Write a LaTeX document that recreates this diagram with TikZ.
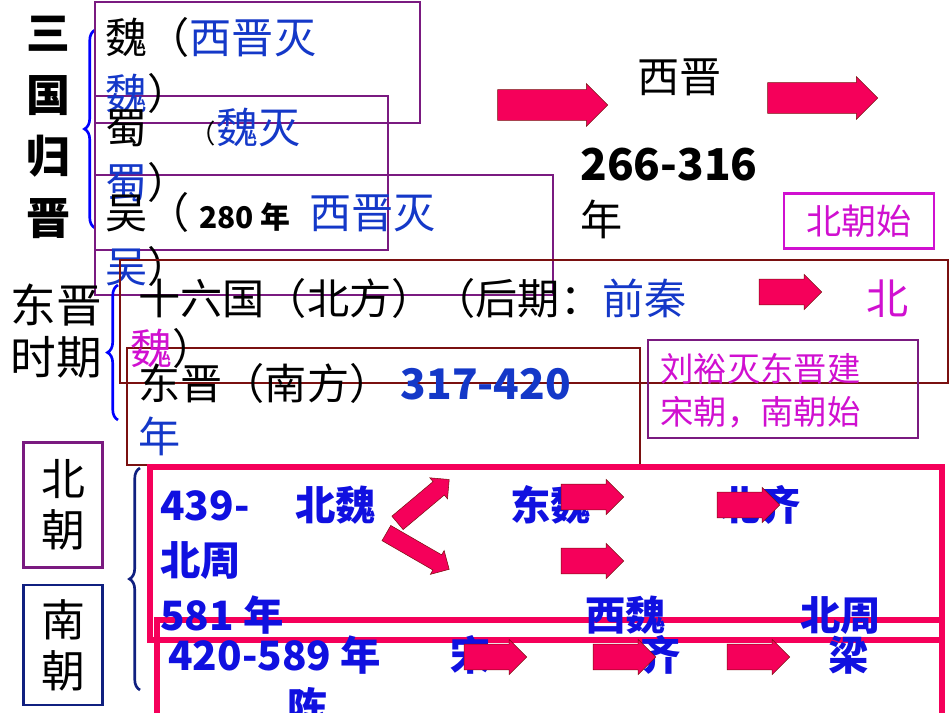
\documentclass[tikz,border=0pt]{standalone}
\usepackage{fontspec}
\setmainfont{Noto Sans CJK SC}
\usepackage{xcolor}
\usetikzlibrary{shapes.arrows, decorations.pathreplacing, positioning}
\definecolor{txtblue}{HTML}{1438C8}
\definecolor{boldblue}{HTML}{1010E0}
\definecolor{pinkred}{HTML}{F5005A}
\definecolor{frame}{HTML}{7A1A80}
\definecolor{darkred}{HTML}{7A1010}
\definecolor{magen}{HTML}{D010D0}
\definecolor{navy}{HTML}{102080}

\begin{document}
\begin{tikzpicture}[
		x=0.02cm, y=-0.02cm,
		txt/.style={anchor=base west, inner sep=0pt, font=\fontsize{24}{24}\selectfont},
		big/.style={txt, font=\fontsize{23}{23}\selectfont\bfseries, text=boldblue},
		side/.style={txt, font=\fontsize{19}{19}\selectfont, text=magen},
		frm/.style={draw=frame, line width=1.6pt},
		redfrm/.style={draw=darkred, line width=1.6pt},
		pinkfrm/.style={draw=pinkred, line width=3.6pt},
		blockarrow/.style={single arrow, draw=darkred, fill=pinkred, minimum height=2.2cm, minimum width=0.85cm, single arrow head extend=0.08cm, inner xsep=0pt, inner ysep=0.2cm, line width=0.3pt},
		smallarrow/.style={blockarrow, minimum height=1.25cm, minimum width=0.7cm, inner ysep=0.16cm, single arrow head extend=0.06cm},
		brace/.style={decorate, decoration={brace, amplitude=6pt}, line width=1.5pt}
		]
		\useasboundingbox (0,0) rectangle (950,713);
		
		% Three kingdoms
		\node[txt, font=\fontsize{25}{25}\selectfont\bfseries, align=center, anchor=north] (sanguo) at (48,16) {三\\[10pt]国\\[10pt]归\\[10pt]晋};
		\draw[brace, draw=blue] (95,228) -- (95,30);
		\draw[frm] (95,2) rectangle (420,123);
		\draw[frm] (95,96) rectangle (388,250);
		\draw[frm] (95,175) rectangle (553,295);
		\node[txt] (wei) at (105,54) {魏（\textcolor{txtblue}{西晋灭}};
		\node[txt] (wei2) at (105,110) {\textcolor{txtblue}{魏}）};
		\node[txt] (shu) at (105,144) {蜀\quad{\fontsize{15}{15}\selectfont（}\textcolor{txtblue}{魏灭}};
		\node[txt] (shu2) at (105,198) {\textcolor{txtblue}{蜀}）};
		\node[txt] (wu) at (105,228) {吴（ {\fontsize{17}{17}\selectfont\bfseries 280 年}\ \ \textcolor{txtblue}{西晋灭}};
		\node[txt] (wu2) at (105,282) {\textcolor{txtblue}{吴}）};
		
		% Western Jin
		\node[blockarrow] (a1) at (545,105) {};
		\node[blockarrow] (a2) at (815,98) {};
		\node[txt] (xijin) at (637,92) {西晋};
		\node[txt, font=\fontsize{25}{25}\selectfont\bfseries] (years) at (580,180) {266-316};
		\node[txt] (nian) at (580,235) {年};
		\node[draw=magen, line width=1.6pt, minimum width=3cm, minimum height=1.1cm, inner sep=0pt, text=magen, font=\fontsize{20}{20}\selectfont] (beichaoshi) at (859,221) {北朝始};
		
		% Eastern Jin
		\node[txt, align=left, anchor=north west, font=\fontsize{26}{30}\selectfont] (dongjin) at (10,283) {东晋\\时期};
		\draw[brace, draw=blue] (118,420) -- (118,285);
		\draw[redfrm] (120,260) rectangle (948,383);
		\draw[redfrm] (127,348) rectangle (640,465);
		\node[txt] (shiliu) at (138,314) {十六国（北方）（后期：\textcolor{txtblue}{前秦}};
		\node[smallarrow] (a3) at (784,292) {};
		\node[txt, text=magen] (bei) at (866,314) {北};
		\node[txt] (wei3) at (130,364) {\textcolor{magen}{魏}）};
		\node[txt] (dongjin2) at (138,399) {东晋（南方）\ {\bfseries\textcolor{txtblue}{317-420}}};
		\node[txt, text=txtblue] (nian2) at (138,452) {年};
		\draw[frm] (648,340) rectangle (918,438);
		\node[side] (liuyu) at (660,381) {刘裕灭东晋建};
		\node[side] (liuyu2) at (660,424) {宋朝，南朝始};
		
		% Northern and Southern dynasties
		\node[draw=frame, line width=1.6pt, minimum width=1.58cm, minimum height=2.5cm, inner sep=0pt, align=center, font=\fontsize{25}{29}\selectfont] (beichao) at (63,505) {北\\朝};
		\node[draw=navy, line width=1.6pt, minimum width=1.58cm, minimum height=2.4cm, inner sep=0pt, align=center, font=\fontsize{25}{29}\selectfont] (nanchao) at (63,645) {南\\朝};
		\draw[brace, draw=navy] (140,690) -- (140,468);
		\draw[pinkfrm] (150,467) rectangle (942,640);
		\draw[pinkfrm] (157,620) rectangle (942,730);
		\node[big] (n439) at (160,520) {439-};
		\node[big] (beiwei) at (295,520) {北魏};
		\node[big] (dongwei) at (510,520) {东魏};
		\node[big] (beiqi) at (720,520) {北齐};
		\node[big] (beizhou) at (160,575) {北周};
		\node[big] (n581) at (160,630) {581 年};
		\node[big] (xiwei) at (585,630) {西魏};
		\node[big] (beizhou2) at (800,630) {北周};
		\node[big] (n420) at (168,670) {420-589 年};
		\node[big] (song) at (450,670) {宋};
		\node[big] (qi) at (640,670) {齐};
		\node[big] (liang) at (828,670) {梁};
		\node[big] (chen) at (287,722) {陈};
		\node[smallarrow, minimum height=1.35cm, minimum width=0.55cm, inner ysep=0.1cm, rotate=40] (a4) at (420,504) {};
		\node[smallarrow, minimum height=1.45cm, minimum width=0.55cm, inner ysep=0.1cm, rotate=-30] (a5) at (414,549) {};
		\node[smallarrow] (a6) at (586,497) {};
		\node[smallarrow] (a7) at (742,505) {};
		\node[smallarrow] (a8) at (586,561) {};
		\node[smallarrow] (a9) at (489,657) {};
		\node[smallarrow] (a10) at (618,657) {};
		\node[smallarrow] (a11) at (752,657) {};
	\end{tikzpicture}
\end{document}
